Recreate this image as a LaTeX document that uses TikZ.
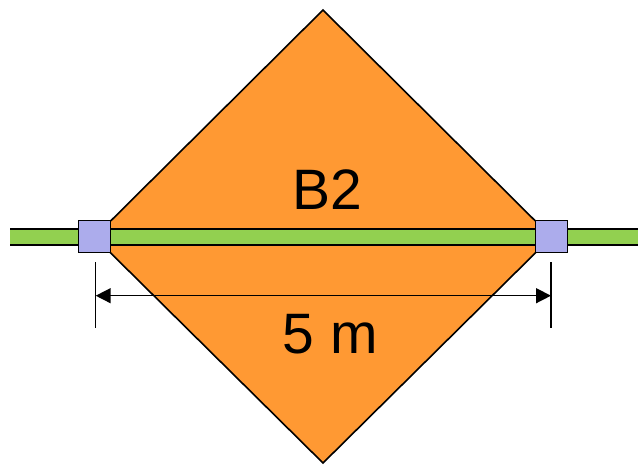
\documentclass[tikz,border=0pt]{standalone}
\usepackage{fontspec}
\setmainfont{Liberation Sans}
\usepackage{tikz}
\usetikzlibrary{arrows.meta,positioning}
\definecolor{bzfill}{RGB}{255,153,51}
\definecolor{bzbar}{RGB}{146,208,80}
\definecolor{bzjoint}{RGB}{172,172,236}
\tikzset{
  zone/.style={draw=black, line width=1.6pt, fill=bzfill, line join=miter},
  barline/.style={draw=black, line width=18pt, line cap=butt},
  barfill/.style={draw=bzbar, line width=14pt, line cap=butt},
  joint/.style={draw=black, line width=1.6pt, fill=bzjoint, minimum size=32pt, inner sep=0pt},
  lbl/.style={font=\fontsize{57}{60}\selectfont, inner sep=0pt},
  dimarr/.style={{Triangle[length=15pt,width=15pt]}-{Triangle[length=15pt,width=15pt]}, line width=1.5pt},
  tick/.style={line width=1.5pt}
}
\begin{document}
\begin{tikzpicture}[x=1pt,y=-1pt]
  \useasboundingbox (0,0) rectangle (638,464);
  % zone outline
  \coordinate (top) at (323,10);
  \coordinate (rgt) at (551.5,237);
  \coordinate (bot) at (323,463);
  \coordinate (lft) at (94.5,237);
  \draw[zone] (top) -- (rgt) -- (bot) -- (lft) -- cycle;
  % conductor
  \coordinate (w0) at (10,237);
  \coordinate (w1) at (638,237);
  \draw[barline] (w0) -- (w1);
  \draw[barfill] (w0) -- (w1);
  \node[joint] (ja) at (94.5,236.5) {};
  \node[joint] (jb) at (551.5,236.5) {};
  % dimension
  \coordinate (ta0) at (95.7,262);
  \coordinate (ta1) at (95.7,328);
  \coordinate (tb0) at (551,262);
  \coordinate (tb1) at (551,328);
  \draw[tick] (ta0) -- (ta1);
  \draw[tick] (tb0) -- (tb1);
  \coordinate (da) at (95.7,295.7);
  \coordinate (db) at (551,295.7);
  \draw[dimarr] (da) -- (db);
  \node[lbl] (name) at (327.5,190) {B2};
  \node[lbl] (len) at (330.5,334.5) {5 m};
\end{tikzpicture}
\end{document}
